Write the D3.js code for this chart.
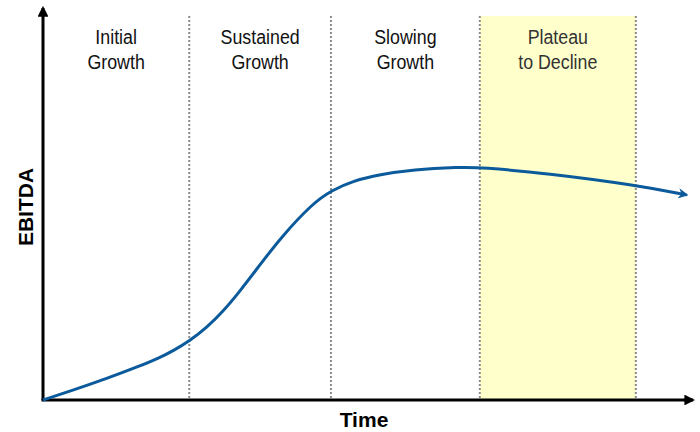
<!DOCTYPE html>
<html>
<head>
<meta charset="utf-8">
<script src="https://cdn.jsdelivr.net/npm/d3@7/dist/d3.min.js"></script>
<style>
  html, body { margin: 0; padding: 0; background: #ffffff; }
  svg { display: block; }
</style>
</head>
<body>
<svg id="chart" width="700" height="432"></svg>
<script>
// Life-cycle curve of EBITDA over time (arbitrary units, 0-100 on both axes)
const timeVals   = [0, 4.6, 9.8, 14.9, 18.0, 20.0, 22.5, 25.2, 27.7, 30.3, 32.9, 36.5, 41.5, 44.5, 47.7, 51.8, 56.9, 64.2, 67.2, 78, 91.1, 99];
const ebitdaVals = [0, 2.5, 5.5, 8.7, 10.9, 12.6, 15.1, 18.6, 22.7, 27.9, 33.6, 41.5, 50.5, 53.8, 56.2, 57.8, 59.1, 59.7, 59.7, 58.0, 55.1, 52.6];

// Phase boundaries on the time axis and their labels
const phaseBounds = [0, 22.5, 44.3, 67.2, 91.2];
const phaseLabels = [
  ["Initial", "Growth"],
  ["Sustained", "Growth"],
  ["Slowing", "Growth"],
  ["Plateau", "to Decline"]
];
const highlightPhase = 3;

const axisLabels = { x: "Time", y: "EBITDA" };

const svg = d3.select("#chart");

const x = d3.scaleLinear().domain([0, 100]).range([43, 693]);
const y = d3.scaleLinear().domain([0, 100]).range([400, 10]);

const bandTop = 16;

// Highlighted band for the final phase
svg.append("rect")
  .attr("x", x(phaseBounds[highlightPhase]))
  .attr("y", bandTop)
  .attr("width", x(phaseBounds[highlightPhase + 1]) - x(phaseBounds[highlightPhase]))
  .attr("height", y(0) - bandTop)
  .attr("fill", "#FFFFCC");

// Dotted phase dividers
svg.selectAll("line.divider")
  .data(phaseBounds.slice(1))
  .join("line")
  .attr("class", "divider")
  .attr("x1", d => x(d)).attr("x2", d => x(d))
  .attr("y1", bandTop).attr("y2", y(0))
  .attr("stroke", "#8a8a8a")
  .attr("stroke-width", 2)
  .attr("stroke-dasharray", "2,2");

// Phase labels, set in a condensed face (horizontally compressed sans)
const labelFont = "'Liberation Sans Narrow', 'Arial Narrow', 'Liberation Sans', Arial, sans-serif";
const squeeze = 0.89;
phaseLabels.forEach((lines, i) => {
  const cx = (x(phaseBounds[i]) + x(phaseBounds[i + 1])) / 2;
  const t = svg.append("text")
    .attr("transform", `translate(${cx},44) scale(${squeeze},1)`)
    .attr("text-anchor", "middle")
    .attr("font-family", labelFont)
    .attr("font-size", 20)
    .attr("fill", i === highlightPhase ? "#333333" : "#111111");
  lines.forEach((ln, j) => {
    t.append("tspan").attr("x", 0).attr("y", j * 25).text(ln);
  });
});

// Arrow markers
const defs = svg.append("defs");
defs.append("marker")
  .attr("id", "axisArrow")
  .attr("viewBox", "0 0 10 10")
  .attr("refX", 8).attr("refY", 5)
  .attr("markerWidth", 3.6).attr("markerHeight", 3.6)
  .attr("markerUnits", "strokeWidth")
  .attr("orient", "auto")
  .append("path").attr("d", "M0,0 L10,5 L0,10 Z").attr("fill", "#000");
defs.append("marker")
  .attr("id", "curveArrow")
  .attr("viewBox", "0 0 10 10")
  .attr("refX", 8).attr("refY", 5)
  .attr("markerWidth", 3.4).attr("markerHeight", 3.4)
  .attr("markerUnits", "strokeWidth")
  .attr("orient", "auto")
  .append("path").attr("d", "M0,0 L10,5 L0,10 L3,5 Z").attr("fill", "#0B5A9B");

// Axes with arrows
svg.append("line")
  .attr("x1", x(0)).attr("y1", y(0))
  .attr("x2", x(0)).attr("y2", 8)
  .attr("stroke", "#000").attr("stroke-width", 3)
  .attr("marker-end", "url(#axisArrow)");
svg.append("line")
  .attr("x1", x(0) - 1.5).attr("y1", y(0))
  .attr("x2", 693).attr("y2", y(0))
  .attr("stroke", "#000").attr("stroke-width", 3)
  .attr("marker-end", "url(#axisArrow)");

// EBITDA curve
const pts = timeVals.map((t, i) => [t, ebitdaVals[i]]);
const line = d3.line()
  .x(d => x(d[0]))
  .y(d => y(d[1]))
  .curve(d3.curveBasis);
svg.append("path")
  .datum(pts)
  .attr("d", line)
  .attr("fill", "none")
  .attr("stroke", "#0B5A9B")
  .attr("stroke-width", 3)
  .attr("marker-end", "url(#curveArrow)");

// Axis titles
const titleFont = "'Liberation Sans', Arial, sans-serif";
svg.append("text")
  .attr("x", 364).attr("y", 427)
  .attr("text-anchor", "middle")
  .attr("font-family", titleFont)
  .attr("font-weight", "bold")
  .attr("font-size", 21)
  .text(axisLabels.x);
svg.append("text")
  .attr("transform", "translate(33,207) rotate(-90)")
  .attr("text-anchor", "middle")
  .attr("font-family", titleFont)
  .attr("font-weight", "bold")
  .attr("font-size", 21)
  .text(axisLabels.y);
</script>
</body>
</html>
